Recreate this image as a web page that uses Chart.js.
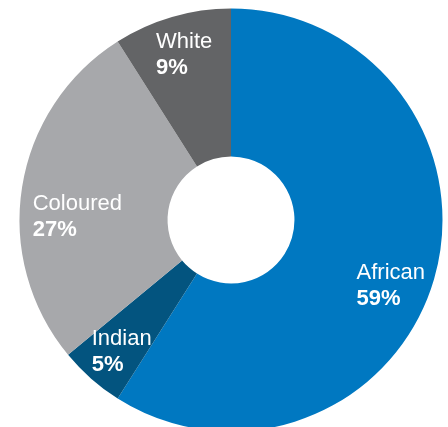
<!DOCTYPE html>
<html>
<head>
<meta charset="utf-8">
<script src="https://cdn.jsdelivr.net/npm/chart.js@4.4.1/dist/chart.umd.min.js"></script>
<style>
  html, body { margin: 0; padding: 0; background: #fff; overflow: hidden; }
  .chart-container { position: relative; width: 448px; height: 440px; }
</style>
</head>
<body>
<div class="chart-container">
  <canvas id="populationChart"></canvas>
</div>
<script>
// Population groups, share in percent
const groups = ['African', 'Indian', 'Coloured', 'White'];
const shares = [59, 5, 27, 9];
const sliceColors = ['#0078c1', '#03547f', '#a7a8ab', '#636466'];

// Label nudges per slice: [angle shift in degrees, radial position 0..1 across the ring]
const labelNudge = [[5.5, 0.733], [-1.4, 0.72], [-7, 0.61], [0.5, 0.74]];

// Draw the two-line labels (name + bold percent) inside each slice
const sliceLabels = {
    id: 'sliceLabels',
    afterDatasetsDraw(chart) {
        const ctx = chart.ctx;
        const meta = chart.getDatasetMeta(0);
        const nameFont = 'normal 22px "Liberation Sans", Arial, sans-serif';
        const pctFont = 'bold 22px "Liberation Sans", Arial, sans-serif';
        ctx.save();
        ctx.fillStyle = '#ffffff';
        ctx.textAlign = 'left';
        ctx.textBaseline = 'alphabetic';
        meta.data.forEach((arc, i) => {
            const p = arc.getProps(['x', 'y', 'startAngle', 'endAngle', 'innerRadius', 'outerRadius'], true);
            const [shift, f] = labelNudge[i];
            const mid = (p.startAngle + p.endAngle) / 2 + shift * Math.PI / 180;
            const r = p.innerRadius + f * (p.outerRadius - p.innerRadius);
            const cx = p.x + Math.cos(mid) * r;
            const cy = p.y + Math.sin(mid) * r;
            const name = groups[i];
            const pct = chart.data.datasets[0].data[i] + '%';
            ctx.font = nameFont;
            const w1 = ctx.measureText(name).width;
            ctx.font = pctFont;
            const w2 = ctx.measureText(pct).width;
            const left = cx - Math.max(w1, w2) / 2;
            ctx.font = nameFont;
            ctx.fillText(name, left, cy - 5);
            ctx.font = pctFont;
            ctx.fillText(pct, left, cy + 21);
        });
        ctx.restore();
    }
};

new Chart(document.getElementById('populationChart'), {
    type: 'doughnut',
    data: {
        labels: groups,
        datasets: [{
            data: shares,
            backgroundColor: sliceColors,
            borderWidth: 0
        }]
    },
    options: {
        responsive: true,
        maintainAspectRatio: false,
        animation: false,
        events: [],
        cutout: '30%',
        layout: {
            padding: { left: 19.5, right: 5.5, top: 8.5, bottom: 8.5 }
        },
        plugins: {
            legend: { display: false },
            tooltip: { enabled: false }
        }
    },
    plugins: [sliceLabels]
});
</script>
</body>
</html>
